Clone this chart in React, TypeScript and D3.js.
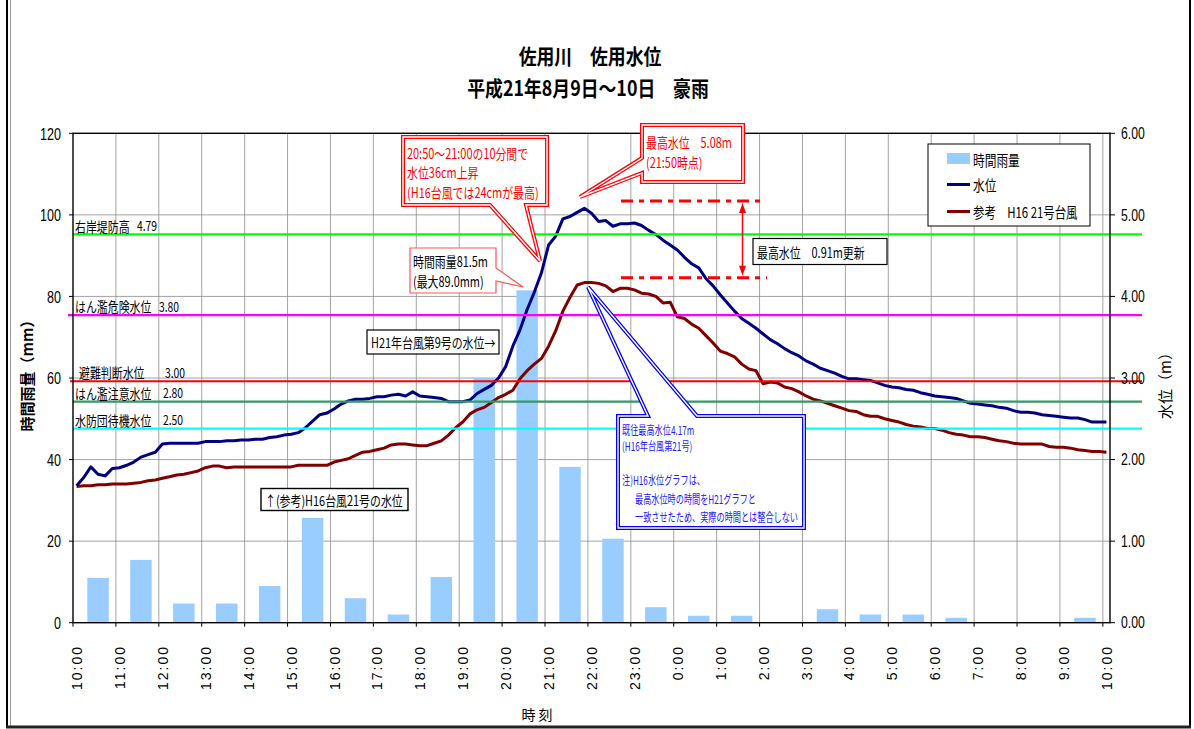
import React, { useEffect, useRef } from 'react';
import * as d3 from 'd3';

const hourLabels = [
  '10:00', '11:00', '12:00', '13:00', '14:00', '15:00', '16:00', '17:00', '18:00', '19:00',
  '20:00', '21:00', '22:00', '23:00', '0:00', '1:00', '2:00', '3:00', '4:00', '5:00',
  '6:00', '7:00', '8:00', '9:00', '10:00',
];

// hourly rainfall (mm), one bar per hour
const rainfall = [
  11.0, 15.4, 4.7, 4.7, 9.0, 25.7, 6.0, 2.0, 11.2, 60.0, 81.5, 38.2,
  20.6, 3.8, 1.7, 1.7, 0, 3.3, 2.0, 2.0, 1.2, 0, 0, 1.2,
];

// H21 water level every 10 min (m)
const levelH21 = [
  1.68, 1.78, 1.91, 1.82, 1.80, 1.89, 1.90, 1.93, 1.97, 2.03, 2.06, 2.09,
  2.19, 2.20, 2.20, 2.20, 2.20, 2.20, 2.22, 2.22, 2.22, 2.23, 2.23, 2.24,
  2.24, 2.25, 2.25, 2.27, 2.28, 2.30, 2.31, 2.33, 2.39, 2.47, 2.55, 2.57,
  2.62, 2.68, 2.72, 2.74, 2.74, 2.75, 2.77, 2.77, 2.79, 2.80, 2.78, 2.83,
  2.78, 2.77, 2.76, 2.75, 2.71, 2.71, 2.71, 2.73, 2.81, 2.86, 2.91, 3.00,
  3.14, 3.39, 3.59, 3.84, 4.05, 4.29, 4.63, 4.74, 4.95, 4.98, 5.03, 5.08,
  5.02, 4.92, 4.93, 4.86, 4.89, 4.89, 4.90, 4.87, 4.81, 4.76, 4.69, 4.63,
  4.57, 4.48, 4.40, 4.35, 4.22, 4.13, 4.02, 3.92, 3.82, 3.73, 3.67, 3.61,
  3.54, 3.47, 3.42, 3.36, 3.31, 3.27, 3.21, 3.17, 3.12, 3.09, 3.06, 3.02,
  2.99, 2.99, 2.98, 2.97, 2.94, 2.91, 2.89, 2.88, 2.86, 2.85, 2.82, 2.80,
  2.78, 2.77, 2.76, 2.75, 2.72, 2.69, 2.68, 2.67, 2.66, 2.64, 2.63, 2.60,
  2.58, 2.58, 2.57, 2.55, 2.54, 2.53, 2.52, 2.51, 2.51, 2.49, 2.46, 2.46,
  2.46,
];

// reference: H16 typhoon 21 (m)
const levelH16 = [
  1.67, 1.68, 1.68, 1.69, 1.69, 1.70, 1.70, 1.70, 1.71, 1.72, 1.74, 1.75,
  1.77, 1.79, 1.81, 1.82, 1.84, 1.86, 1.90, 1.92, 1.92, 1.90, 1.91, 1.91,
  1.91, 1.91, 1.91, 1.91, 1.91, 1.91, 1.91, 1.93, 1.93, 1.93, 1.93, 1.93,
  1.97, 1.99, 2.01, 2.05, 2.09, 2.10, 2.12, 2.14, 2.18, 2.19, 2.19, 2.18,
  2.17, 2.17, 2.20, 2.23, 2.30, 2.39, 2.46, 2.56, 2.61, 2.64, 2.70, 2.76,
  2.80, 2.85, 2.99, 3.09, 3.17, 3.24, 3.39, 3.58, 3.82, 3.99, 4.14, 4.17,
  4.17, 4.16, 4.13, 4.06, 4.10, 4.10, 4.08, 4.04, 4.03, 4.00, 3.92, 3.93,
  3.75, 3.73, 3.66, 3.61, 3.52, 3.43, 3.33, 3.30, 3.26, 3.17, 3.11, 3.09,
  2.93, 2.95, 2.94, 2.89, 2.87, 2.83, 2.78, 2.74, 2.72, 2.69, 2.66, 2.63,
  2.60, 2.59, 2.55, 2.53, 2.53, 2.50, 2.48, 2.46, 2.43, 2.41, 2.40, 2.38,
  2.38, 2.36, 2.33, 2.31, 2.30, 2.28, 2.28, 2.27, 2.25, 2.23, 2.22, 2.20,
  2.19, 2.19, 2.19, 2.19, 2.16, 2.15, 2.15, 2.14, 2.12, 2.11, 2.10, 2.10,
  2.09,
];

const thresholdNames = ['右岸堤防高', 'はん濫危険水位', '避難判断水位', 'はん濫注意水位', '水防団待機水位'];
const thresholdText = ['4.79', '3.80', '3.00', '2.80', '2.50'];
const thresholdDrawn = [4.76, 3.77, 2.96, 2.71, 2.38];
const peakMarks = [5.17, 4.23];

const rainTicks = [0, 20, 40, 60, 80, 100, 120];
const levelTicks = [0, 1, 2, 3, 4, 5, 6];

const JP = '"Noto Sans CJK JP", "Noto Sans", sans-serif';
const NUM = '"Liberation Sans", Arial, sans-serif';

type TOpt = {
  size?: number; sx?: number; fill?: string; weight?: string | number;
  anchor?: string; family?: string; rotate?: number; spacing?: number;
};

const WaterLevelChart: React.FC = () => {
  const svgRef = useRef<SVGSVGElement>(null);

  useEffect(() => {
    if (!svgRef.current) return;
    const W = 1194, H = 729;
    const svg = d3.select(svgRef.current);
    svg.selectAll('*').remove();
    svg.attr('width', W).attr('height', H);

    const left = 73, right = 1110, top = 133.3, bottom = 622.7;
    const n = levelH21.length;
    const x = d3.scaleLinear().domain([-0.5, n - 0.5]).range([left, right]);
    const yRain = d3.scaleLinear().domain([0, 120]).range([bottom, top]);
    const yLevel = d3.scaleLinear().domain([0, 6]).range([bottom, top]);

    const label = (px: number, py: number, str: string, o: TOpt = {}) => {
      const g = svg.append('g')
        .attr('transform', `translate(${px},${py}) rotate(${o.rotate ?? 0}) scale(${o.sx ?? 1},1)`);
      g.append('text')
        .attr('font-family', o.family ?? JP)
        .attr('font-size', o.size ?? 13)
        .attr('font-weight', o.weight ?? 'normal')
        .attr('fill', o.fill ?? '#000')
        .attr('text-anchor', o.anchor ?? 'start')
        .attr('dominant-baseline', 'central')
        .attr('letter-spacing', o.spacing ?? 0)
        .text(str);
    };

    svg.append('rect').attr('width', W).attr('height', H).attr('fill', '#fff');

    // outer frame
    svg.append('line').attr('x1', 7).attr('x2', 7).attr('y1', 0).attr('y2', 728).attr('stroke', '#000').attr('stroke-width', 2);
    svg.append('line').attr('x1', 10.5).attr('x2', 10.5).attr('y1', 0).attr('y2', 726).attr('stroke', '#999').attr('stroke-width', 1);
    svg.append('line').attr('x1', 1190).attr('x2', 1190).attr('y1', 0).attr('y2', 728).attr('stroke', '#000').attr('stroke-width', 2);
    svg.append('line').attr('x1', 6).attr('x2', 1191).attr('y1', 727).attr('y2', 727).attr('stroke', '#222').attr('stroke-width', 3);

    // title
    label(590, 55, '佐用川　佐用水位', { size: 21, sx: 0.85, weight: 'bold', anchor: 'middle' });
    label(588, 87, '平成21年8月9日～10日　豪雨', { size: 21, sx: 0.85, weight: 'bold', anchor: 'middle' });

    // grid
    const grid = svg.append('g').attr('stroke', '#8c8c8c').attr('stroke-width', 0.8);
    d3.range(6, n, 6).forEach((i) => {
      grid.append('line').attr('x1', x(i - 0.5)).attr('x2', x(i - 0.5)).attr('y1', top).attr('y2', bottom);
    });
    rainTicks.slice(1, -1).forEach((t) => {
      grid.append('line').attr('x1', left).attr('x2', right).attr('y1', yRain(t)).attr('y2', yRain(t));
    });

    // rainfall bars
    svg.append('g').selectAll('rect').data(rainfall).enter().append('rect')
      .attr('x', (_, k) => x(6 * k + 1.5))
      .attr('width', (_, k) => x(6 * k + 4.5) - x(6 * k + 1.5))
      .attr('y', (d) => yRain(d))
      .attr('height', (d) => bottom - yRain(d))
      .attr('fill', '#99ccff');

    // water level lines
    const line = d3.line<number>().x((_, i) => x(i)).y((d) => yLevel(d)).curve(d3.curveLinear);
    svg.append('path').attr('d', line(levelH16)!).attr('fill', 'none')
      .attr('stroke', '#800000').attr('stroke-width', 3).attr('stroke-linejoin', 'round');
    svg.append('path').attr('d', line(levelH21)!).attr('fill', 'none')
      .attr('stroke', '#000080').attr('stroke-width', 3).attr('stroke-linejoin', 'round');

    // threshold lines
    const thColors = ['#00ff00', '#ff00ff', '#ff0000', '#339966', '#00ffff'];
    const thStart = [left, left - 5, left - 3, left, left];
    const thValX = [137, 159, 165, 163, 163];
    thresholdDrawn.forEach((v, k) => {
      svg.append('line').attr('x1', thStart[k]).attr('x2', right + 32)
        .attr('y1', yLevel(v)).attr('y2', yLevel(v))
        .attr('stroke', thColors[k]).attr('stroke-width', 2.2);
      label(k === 2 ? 79 : 75, yLevel(v) - 9, thresholdNames[k], { size: 14, sx: 0.78 });
      label(thValX[k], yLevel(v) - 9, thresholdText[k], { size: 14, sx: 0.74 });
    });

    // plot frame
    svg.append('rect').attr('x', left).attr('y', top).attr('width', right - left).attr('height', bottom - top)
      .attr('fill', 'none').attr('stroke', '#000').attr('stroke-width', 1.4);

    // left axis
    rainTicks.forEach((t) => {
      svg.append('line').attr('x1', left - 4).attr('x2', left).attr('y1', yRain(t)).attr('y2', yRain(t)).attr('stroke', '#000');
      label(61, yRain(t), String(t), { size: 17, sx: 0.74, family: NUM, anchor: 'end' });
    });
    // right axis
    levelTicks.forEach((t) => {
      svg.append('line').attr('x1', right).attr('x2', right + 5).attr('y1', yLevel(t)).attr('y2', yLevel(t)).attr('stroke', '#000');
      label(1121, yLevel(t), t.toFixed(2), { size: 17, sx: 0.72, family: NUM });
    });
    // x axis labels
    hourLabels.forEach((s, k) => {
      const i = k * 6;
      svg.append('line').attr('x1', x(i - 0.5)).attr('x2', x(i - 0.5)).attr('y1', bottom).attr('y2', bottom + 4).attr('stroke', '#000');
      label(x(i) + 0.5, 645, s, { size: 14, family: NUM, rotate: -90, anchor: 'end', spacing: 2 });
    });

    // axis titles
    label(26, 372, '時間雨量（mm）', { size: 15, weight: 'bold', rotate: -90, anchor: 'middle' });
    label(1164, 382, '水位（m）', { size: 15, rotate: -90, anchor: 'middle' });
    label(537, 714, '時 刻', { size: 14, anchor: 'middle' });

    // legend
    svg.append('rect').attr('x', 928).attr('y', 144).attr('width', 162).attr('height', 82)
      .attr('fill', '#fff').attr('stroke', '#000').attr('stroke-width', 1);
    svg.append('rect').attr('x', 947).attr('y', 153).attr('width', 23).attr('height', 11).attr('fill', '#99ccff');
    label(973, 159, '時間雨量', { size: 15, sx: 0.78 });
    svg.append('line').attr('x1', 947).attr('x2', 970).attr('y1', 184.5).attr('y2', 184.5).attr('stroke', '#000080').attr('stroke-width', 3);
    label(973, 184.5, '水位', { size: 15, sx: 0.78 });
    svg.append('line').attr('x1', 947).attr('x2', 970).attr('y1', 211.5).attr('y2', 211.5).attr('stroke', '#800000').attr('stroke-width', 3);
    label(973, 211.5, '参考　H16 21号台風', { size: 15, sx: 0.76 });

    // callouts
    const callout = (d: string, color: string, double: boolean) => {
      if (double) {
        svg.append('path').attr('d', d).attr('fill', '#fff').attr('stroke', color).attr('stroke-width', 4).attr('stroke-linejoin', 'miter');
        svg.append('path').attr('d', d).attr('fill', 'none').attr('stroke', '#fff').attr('stroke-width', 1.4).attr('stroke-linejoin', 'miter');
      } else {
        svg.append('path').attr('d', d).attr('fill', '#fff').attr('stroke', color).attr('stroke-width', 1.2);
      }
    };
    const calloutTxt = { size: 14, sx: 0.78 };

    callout('M403,137H547V205H526L540,261L490,205H403Z', '#ff0000', true);
    label(407, 153, '20:50～21:00の10分間で', { ...calloutTxt, fill: '#ff0000' });
    label(407, 172, '水位36cm上昇', { ...calloutTxt, fill: '#ff0000' });
    label(407, 191.5, '(H16台風では24cmが最高)', { ...calloutTxt, fill: '#ff0000' });

    callout('M642,125H743V182H642V173L580,197L642,158Z', '#ff0000', true);
    label(646, 141.5, '最高水位　5.08m', { ...calloutTxt, fill: '#ff0000' });
    label(646, 161.5, '(21:50時点)', { ...calloutTxt, fill: '#ff0000' });

    callout('M410,248H496V268L523,287L496,281V293H410Z', '#ff5555', false);
    label(413, 261, '時間雨量81.5m', calloutTxt);
    label(413, 280.5, '(最大89.0mm)', calloutTxt);

    callout('M618,416H648L588,287L697,416H804V528H618Z', '#0000ff', true);
    const blueTxt = { size: 12, sx: 0.68, fill: '#2020ff' };
    label(622, 429.5, '既往最高水位4.17m', blueTxt);
    label(622, 445.5, '(H16年台風第21号)', blueTxt);
    label(622, 480, '注)H16水位グラフは、', blueTxt);
    label(635, 499, '最高水位時の時間をH21グラフと', blueTxt);
    label(635, 516.5, '一致させたため、実際の時間とは整合しない', blueTxt);

    svg.append('rect').attr('x', 367).attr('y', 330).attr('width', 132).attr('height', 24)
      .attr('fill', '#fff').attr('stroke', '#000').attr('stroke-width', 1.2);
    label(371, 342, 'H21年台風第9号の水位→', calloutTxt);

    svg.append('rect').attr('x', 261).attr('y', 488.5).attr('width', 147).attr('height', 22)
      .attr('fill', '#fff').attr('stroke', '#000').attr('stroke-width', 1.4);
    label(265, 499.5, '↑(参考)H16台風21号の水位', calloutTxt);

    // peak difference marks
    peakMarks.forEach((v, k) => {
      svg.append('line').attr('x1', 621).attr('x2', k === 0 ? 760 : 767)
        .attr('y1', yLevel(v)).attr('y2', yLevel(v))
        .attr('stroke', '#ff0000').attr('stroke-width', 3).attr('stroke-dasharray', '12,6,5,6');
    });
    const ax = 742.5, ay1 = yLevel(peakMarks[0]) + 2, ay2 = yLevel(peakMarks[1]) - 2;
    svg.append('line').attr('x1', ax).attr('x2', ax).attr('y1', ay1 + 8).attr('y2', ay2 - 8)
      .attr('stroke', '#ff0000').attr('stroke-width', 1.5);
    svg.append('path').attr('d', `M${ax},${ay1}L${ax - 3.5},${ay1 + 10}L${ax + 3.5},${ay1 + 10}Z`).attr('fill', '#ff0000');
    svg.append('path').attr('d', `M${ax},${ay2}L${ax - 3.5},${ay2 - 10}L${ax + 3.5},${ay2 - 10}Z`).attr('fill', '#ff0000');

    svg.append('rect').attr('x', 753).attr('y', 238.5).attr('width', 134).attr('height', 26)
      .attr('fill', '#fff').attr('stroke', '#000').attr('stroke-width', 1.2);
    label(757, 251.5, '最高水位　0.91m更新', calloutTxt);
  }, []);

  return <svg ref={svgRef} style={{ position: 'absolute', left: 0, top: 0 }}></svg>;
};

export default function App() {
  return <WaterLevelChart />;
}
